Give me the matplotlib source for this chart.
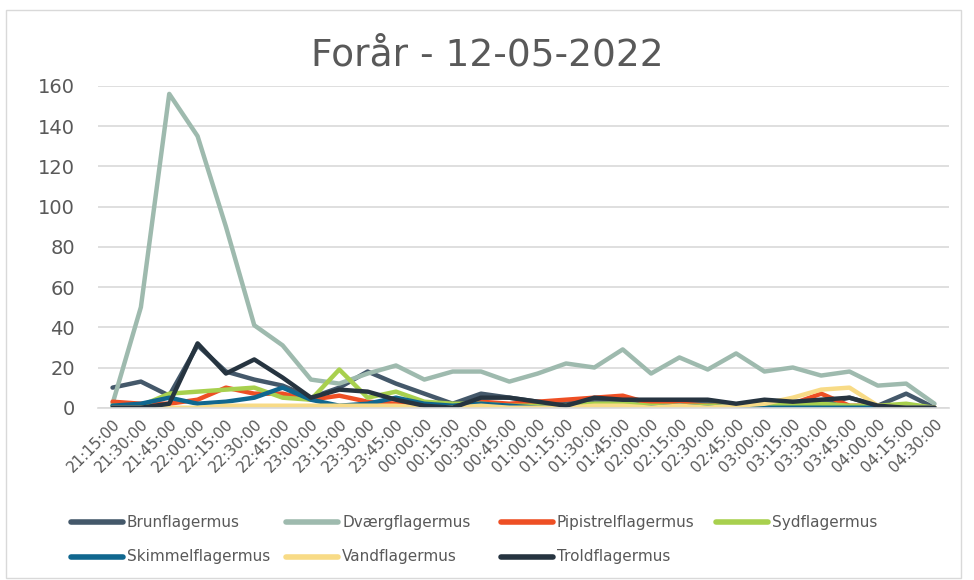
import matplotlib.pyplot as plt
from matplotlib.lines import Line2D
from matplotlib.patches import Rectangle

# Quarter-hour time slots for the night
times = ["21:15:00", "21:30:00", "21:45:00", "22:00:00", "22:15:00", "22:30:00",
         "22:45:00", "23:00:00", "23:15:00", "23:30:00", "23:45:00", "00:00:00",
         "00:15:00", "00:30:00", "00:45:00", "01:00:00", "01:15:00", "01:30:00",
         "01:45:00", "02:00:00", "02:15:00", "02:30:00", "02:45:00", "03:00:00",
         "03:15:00", "03:30:00", "03:45:00", "04:00:00", "04:15:00", "04:30:00"]

brun = [10, 13, 6, 31, 18, 14, 11, 5, 10, 18, 12, 7, 2, 7, 5, 3, 2, 4, 4, 3,
        3, 3, 1, 3, 2, 2, 5, 1, 7, 0]
dvaerg = [2, 50, 156, 135, 90, 41, 31, 14, 12, 17, 21, 14, 18, 18, 13, 17, 22, 20, 29, 17,
          25, 19, 27, 18, 20, 16, 18, 11, 12, 2]
pipistrel = [3, 2, 2, 4, 10, 7, 7, 4, 6, 3, 2, 1, 0, 3, 2, 3, 4, 5, 6, 2,
             2, 1, 1, 3, 2, 7, 1, 1, 0, 0]
syd = [1, 1, 7, 8, 9, 10, 5, 4, 19, 5, 8, 3, 2, 2, 1, 1, 1, 2, 2, 1,
       1, 1, 1, 2, 2, 2, 1, 1, 2, 0]
skimmel = [1, 2, 5, 2, 3, 5, 10, 4, 1, 2, 5, 2, 1, 2, 1, 0, 0, 0, 0, 0,
           1, 0, 1, 0, 0, 0, 0, 0, 0, 0]
vand = [0, 0, 0, 0, 1, 1, 1, 1, 1, 1, 1, 0, 0, 1, 0, 0, 0, 1, 1, 0,
        1, 0, 1, 2, 5, 9, 10, 1, 0, 0]
trold = [0, 0, 2, 32, 17, 24, 15, 5, 9, 8, 4, 1, 0, 5, 5, 3, 1, 5, 4, 4,
         4, 4, 2, 4, 3, 4, 5, 1, 0, 0]

series = [
    ("Brunflagermus", brun, "#44586A"),
    ("Dværgflagermus", dvaerg, "#9EBAAE"),
    ("Pipistrelflagermus", pipistrel, "#EE4F24"),
    ("Sydflagermus", syd, "#A8D04E"),
    ("Skimmelflagermus", skimmel, "#10678F"),
    ("Vandflagermus", vand, "#F8DB86"),
    ("Troldflagermus", trold, "#263440"),
]

text_col = "#595959"
plt.rcParams['font.family'] = ['DejaVu Sans']

W, H = 974, 580
fig = plt.figure(figsize=(W / 100, H / 100), dpi=100)
ax = fig.add_axes([0.101, 0.297, 0.873, 0.555])

x = list(range(len(times)))
for name, vals, col in series:
    ax.plot(x, vals, color=col, linewidth=3.2, label=name, solid_capstyle='round')

ax.set_xlim(-0.5, len(times) - 0.5)
ax.set_ylim(0, 160)
ax.set_yticks(range(0, 161, 20))
ax.grid(axis='y', color='#D9D9D9', linewidth=1.2)
ax.set_axisbelow(True)
for s in ['top', 'right', 'left']:
    ax.spines[s].set_visible(False)
ax.spines['bottom'].set_color('#D9D9D9')
ax.spines['bottom'].set_linewidth(1.2)

ax.set_xticks(x)
ax.set_xticklabels(times, rotation=45, ha='right', rotation_mode='anchor',
                   fontsize=11, color=text_col)
ax.tick_params(axis='x', length=0, pad=6)
ax.tick_params(axis='y', length=0, labelsize=14, labelcolor=text_col, pad=17)

fig.text(0.5, 1 - 55 / H, "Forår - 12-05-2022", ha='center', va='center',
         fontsize=27, color=text_col)

# legend: four equal-width columns, filled row by row
col_w, x_start = 215, 71
row_y = [522, 557]
for i, (name, _, col) in enumerate(series):
    px = x_start + col_w * (i % 4)
    py = 1 - row_y[i // 4] / H
    fig.add_artist(Line2D([px / W, (px + 52) / W], [py, py], color=col,
                          linewidth=4, solid_capstyle='round',
                          transform=fig.transFigure))
    fig.text((px + 56) / W, py, name, ha='left', va='center',
             fontsize=11, color=text_col)

# chart border
fig.patches.append(Rectangle((0.006, 0.004), 0.981, 0.978, transform=fig.transFigure,
                             fill=False, edgecolor='#D9D9D9', linewidth=1))

fig.savefig("out.png", dpi=100)
